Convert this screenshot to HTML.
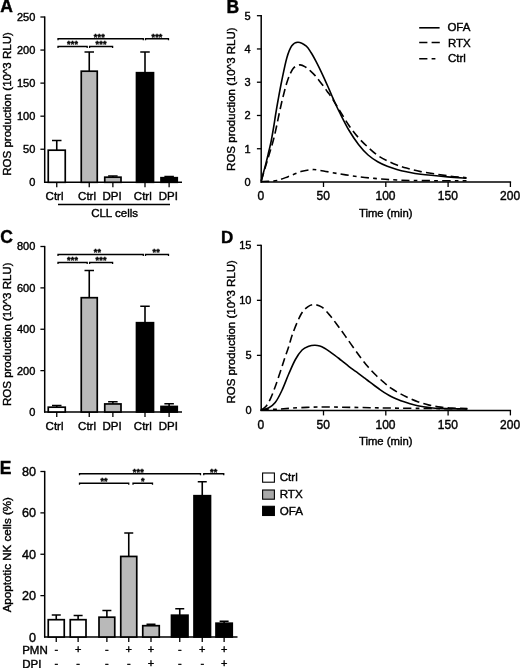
<!DOCTYPE html>
<html><head><meta charset="utf-8"><title>Figure</title>
<style>html,body{margin:0;padding:0;background:#fff}svg{display:block}text{font-family:"Liberation Sans", sans-serif;fill:#000;stroke:#000;stroke-width:0.4px}</style>
</head><body>
<svg width="520" height="668" viewBox="0 0 520 668">
<rect width="520" height="668" fill="#fff"/>
<text x="0.20" y="11.50" font-size="17.5" text-anchor="start" font-weight="bold" >A</text>
<line x1="44.70" y1="16.40" x2="44.70" y2="182.90" stroke="#000" stroke-width="1.5" />
<text x="35.30" y="186.20" font-size="11" text-anchor="end" font-weight="normal" >0</text>
<line x1="40.40" y1="149.24" x2="44.70" y2="149.24" stroke="#000" stroke-width="1.3" />
<text x="35.30" y="153.14" font-size="11" text-anchor="end" font-weight="normal" >50</text>
<line x1="40.40" y1="116.18" x2="44.70" y2="116.18" stroke="#000" stroke-width="1.3" />
<text x="35.30" y="120.08" font-size="11" text-anchor="end" font-weight="normal" >100</text>
<line x1="40.40" y1="83.12" x2="44.70" y2="83.12" stroke="#000" stroke-width="1.3" />
<text x="35.30" y="87.02" font-size="11" text-anchor="end" font-weight="normal" >150</text>
<line x1="40.40" y1="50.06" x2="44.70" y2="50.06" stroke="#000" stroke-width="1.3" />
<text x="35.30" y="53.96" font-size="11" text-anchor="end" font-weight="normal" >200</text>
<line x1="40.40" y1="17.00" x2="44.70" y2="17.00" stroke="#000" stroke-width="1.3" />
<text x="35.30" y="20.90" font-size="11" text-anchor="end" font-weight="normal" >250</text>
<line x1="44.00" y1="182.30" x2="182.00" y2="182.30" stroke="#000" stroke-width="1.5" />
<line x1="56.75" y1="140.50" x2="56.75" y2="150.00" stroke="#000" stroke-width="1.6" />
<line x1="52.00" y1="140.50" x2="61.50" y2="140.50" stroke="#000" stroke-width="1.5" />
<rect x="48.25" y="150.20" width="17.00" height="32.10" fill="#fff" stroke="#000" stroke-width="1.7"/>
<line x1="56.75" y1="182.30" x2="56.75" y2="187.30" stroke="#000" stroke-width="1.3" />
<text x="54.55" y="200.10" font-size="11.5" text-anchor="middle" font-weight="normal" >Ctrl</text>
<line x1="89.25" y1="52.00" x2="89.25" y2="71.00" stroke="#000" stroke-width="1.6" />
<line x1="84.50" y1="52.00" x2="94.00" y2="52.00" stroke="#000" stroke-width="1.5" />
<rect x="81.25" y="71.20" width="16.00" height="111.10" fill="#b9b9b9" stroke="#000" stroke-width="1.7"/>
<line x1="89.25" y1="182.30" x2="89.25" y2="187.30" stroke="#000" stroke-width="1.3" />
<text x="87.05" y="200.10" font-size="11.5" text-anchor="middle" font-weight="normal" >Ctrl</text>
<line x1="112.88" y1="176.00" x2="112.88" y2="177.00" stroke="#000" stroke-width="1.6" />
<line x1="108.12" y1="176.00" x2="117.62" y2="176.00" stroke="#000" stroke-width="1.5" />
<rect x="104.75" y="177.20" width="16.25" height="5.10" fill="#b9b9b9" stroke="#000" stroke-width="1.7"/>
<line x1="112.88" y1="182.30" x2="112.88" y2="187.30" stroke="#000" stroke-width="1.3" />
<text x="112.08" y="200.10" font-size="11.5" text-anchor="middle" font-weight="normal" >DPI</text>
<line x1="145.00" y1="52.00" x2="145.00" y2="72.50" stroke="#000" stroke-width="1.6" />
<line x1="140.25" y1="52.00" x2="149.75" y2="52.00" stroke="#000" stroke-width="1.5" />
<rect x="136.50" y="72.70" width="17.00" height="109.60" fill="#000" stroke="#000" stroke-width="1.7"/>
<line x1="145.00" y1="182.30" x2="145.00" y2="187.30" stroke="#000" stroke-width="1.3" />
<text x="142.80" y="200.10" font-size="11.5" text-anchor="middle" font-weight="normal" >Ctrl</text>
<line x1="169.12" y1="176.50" x2="169.12" y2="177.50" stroke="#000" stroke-width="1.6" />
<line x1="164.38" y1="176.50" x2="173.88" y2="176.50" stroke="#000" stroke-width="1.5" />
<rect x="161.00" y="177.70" width="16.25" height="4.60" fill="#000" stroke="#000" stroke-width="1.7"/>
<line x1="169.12" y1="182.30" x2="169.12" y2="187.30" stroke="#000" stroke-width="1.3" />
<text x="168.32" y="200.10" font-size="11.5" text-anchor="middle" font-weight="normal" >DPI</text>
<path d="M58.00,40.25 V38.75 H143.30 V40.25" fill="none" stroke="#000" stroke-width="1.3"/>
<text x="99.35" y="39.55" font-size="9" text-anchor="middle" font-weight="bold" letter-spacing="0.2" stroke-width="0.2">***</text>
<path d="M145.50,40.25 V38.75 H168.50 V40.25" fill="none" stroke="#000" stroke-width="1.3"/>
<text x="157.00" y="39.55" font-size="9" text-anchor="middle" font-weight="bold" letter-spacing="0.2" stroke-width="0.2">***</text>
<path d="M58.00,48.00 V46.50 H87.20 V48.00" fill="none" stroke="#000" stroke-width="1.3"/>
<text x="72.60" y="47.30" font-size="9" text-anchor="middle" font-weight="bold" letter-spacing="0.2" stroke-width="0.2">***</text>
<path d="M89.60,48.00 V46.50 H112.60 V48.00" fill="none" stroke="#000" stroke-width="1.3"/>
<text x="101.10" y="47.30" font-size="9" text-anchor="middle" font-weight="bold" letter-spacing="0.2" stroke-width="0.2">***</text>
<text transform="translate(11.20,103.95) rotate(-90)" font-size="11.5" text-anchor="middle">ROS production (10^3 RLU)</text>
<line x1="58.00" y1="204.50" x2="170.00" y2="204.50" stroke="#000" stroke-width="1.3" />
<text x="114.60" y="216.50" font-size="11.5" text-anchor="middle" font-weight="normal" >CLL cells</text>
<text x="0.20" y="242.70" font-size="17.5" text-anchor="start" font-weight="bold" >C</text>
<line x1="44.70" y1="245.90" x2="44.70" y2="412.60" stroke="#000" stroke-width="1.5" />
<text x="35.30" y="415.90" font-size="11" text-anchor="end" font-weight="normal" >0</text>
<line x1="40.40" y1="370.62" x2="44.70" y2="370.62" stroke="#000" stroke-width="1.3" />
<text x="35.30" y="374.52" font-size="11" text-anchor="end" font-weight="normal" >200</text>
<line x1="40.40" y1="329.25" x2="44.70" y2="329.25" stroke="#000" stroke-width="1.3" />
<text x="35.30" y="333.15" font-size="11" text-anchor="end" font-weight="normal" >400</text>
<line x1="40.40" y1="287.88" x2="44.70" y2="287.88" stroke="#000" stroke-width="1.3" />
<text x="35.30" y="291.77" font-size="11" text-anchor="end" font-weight="normal" >600</text>
<line x1="40.40" y1="246.50" x2="44.70" y2="246.50" stroke="#000" stroke-width="1.3" />
<text x="35.30" y="250.40" font-size="11" text-anchor="end" font-weight="normal" >800</text>
<line x1="44.00" y1="412.00" x2="182.00" y2="412.00" stroke="#000" stroke-width="1.5" />
<line x1="56.75" y1="405.50" x2="56.75" y2="407.00" stroke="#000" stroke-width="1.6" />
<line x1="52.00" y1="405.50" x2="61.50" y2="405.50" stroke="#000" stroke-width="1.5" />
<rect x="48.25" y="407.20" width="17.00" height="4.80" fill="#fff" stroke="#000" stroke-width="1.7"/>
<line x1="56.75" y1="412.00" x2="56.75" y2="417.00" stroke="#000" stroke-width="1.3" />
<text x="54.55" y="429.80" font-size="11.5" text-anchor="middle" font-weight="normal" >Ctrl</text>
<line x1="89.25" y1="270.50" x2="89.25" y2="297.50" stroke="#000" stroke-width="1.6" />
<line x1="84.50" y1="270.50" x2="94.00" y2="270.50" stroke="#000" stroke-width="1.5" />
<rect x="81.25" y="297.70" width="16.00" height="114.30" fill="#b9b9b9" stroke="#000" stroke-width="1.7"/>
<line x1="89.25" y1="412.00" x2="89.25" y2="417.00" stroke="#000" stroke-width="1.3" />
<text x="87.05" y="429.80" font-size="11.5" text-anchor="middle" font-weight="normal" >Ctrl</text>
<line x1="112.88" y1="401.75" x2="112.88" y2="403.75" stroke="#000" stroke-width="1.6" />
<line x1="108.12" y1="401.75" x2="117.62" y2="401.75" stroke="#000" stroke-width="1.5" />
<rect x="104.75" y="403.95" width="16.25" height="8.05" fill="#b9b9b9" stroke="#000" stroke-width="1.7"/>
<line x1="112.88" y1="412.00" x2="112.88" y2="417.00" stroke="#000" stroke-width="1.3" />
<text x="112.08" y="429.80" font-size="11.5" text-anchor="middle" font-weight="normal" >DPI</text>
<line x1="145.00" y1="306.25" x2="145.00" y2="322.50" stroke="#000" stroke-width="1.6" />
<line x1="140.25" y1="306.25" x2="149.75" y2="306.25" stroke="#000" stroke-width="1.5" />
<rect x="136.50" y="322.70" width="17.00" height="89.30" fill="#000" stroke="#000" stroke-width="1.7"/>
<line x1="145.00" y1="412.00" x2="145.00" y2="417.00" stroke="#000" stroke-width="1.3" />
<text x="142.80" y="429.80" font-size="11.5" text-anchor="middle" font-weight="normal" >Ctrl</text>
<line x1="169.12" y1="403.75" x2="169.12" y2="406.25" stroke="#000" stroke-width="1.6" />
<line x1="164.38" y1="403.75" x2="173.88" y2="403.75" stroke="#000" stroke-width="1.5" />
<rect x="161.00" y="406.45" width="16.25" height="5.55" fill="#000" stroke="#000" stroke-width="1.7"/>
<line x1="169.12" y1="412.00" x2="169.12" y2="417.00" stroke="#000" stroke-width="1.3" />
<text x="168.32" y="429.80" font-size="11.5" text-anchor="middle" font-weight="normal" >DPI</text>
<path d="M58.00,256.00 V254.50 H143.30 V256.00" fill="none" stroke="#000" stroke-width="1.3"/>
<text x="97.45" y="255.30" font-size="9" text-anchor="middle" font-weight="bold" letter-spacing="0.2" stroke-width="0.2">**</text>
<path d="M145.50,256.00 V254.50 H168.50 V256.00" fill="none" stroke="#000" stroke-width="1.3"/>
<text x="156.30" y="255.30" font-size="9" text-anchor="middle" font-weight="bold" letter-spacing="0.2" stroke-width="0.2">**</text>
<path d="M58.00,264.00 V262.50 H87.20 V264.00" fill="none" stroke="#000" stroke-width="1.3"/>
<text x="72.60" y="263.30" font-size="9" text-anchor="middle" font-weight="bold" letter-spacing="0.2" stroke-width="0.2">***</text>
<path d="M89.60,264.00 V262.50 H112.60 V264.00" fill="none" stroke="#000" stroke-width="1.3"/>
<text x="101.10" y="263.30" font-size="9" text-anchor="middle" font-weight="bold" letter-spacing="0.2" stroke-width="0.2">***</text>
<text transform="translate(11.20,334.25) rotate(-90)" font-size="11.5" text-anchor="middle">ROS production (10^3 RLU)</text>
<text x="226.60" y="13.00" font-size="17.5" text-anchor="start" font-weight="bold" >B</text>
<line x1="261.20" y1="15.10" x2="261.20" y2="182.70" stroke="#000" stroke-width="1.5" />
<text x="250.70" y="185.90" font-size="11" text-anchor="end" font-weight="normal" >0</text>
<line x1="256.90" y1="148.74" x2="261.20" y2="148.74" stroke="#000" stroke-width="1.3" />
<text x="250.70" y="152.64" font-size="11" text-anchor="end" font-weight="normal" >1</text>
<line x1="256.90" y1="115.48" x2="261.20" y2="115.48" stroke="#000" stroke-width="1.3" />
<text x="250.70" y="119.38" font-size="11" text-anchor="end" font-weight="normal" >2</text>
<line x1="256.90" y1="82.22" x2="261.20" y2="82.22" stroke="#000" stroke-width="1.3" />
<text x="250.70" y="86.12" font-size="11" text-anchor="end" font-weight="normal" >3</text>
<line x1="256.90" y1="48.96" x2="261.20" y2="48.96" stroke="#000" stroke-width="1.3" />
<text x="250.70" y="52.86" font-size="11" text-anchor="end" font-weight="normal" >4</text>
<line x1="256.90" y1="15.70" x2="261.20" y2="15.70" stroke="#000" stroke-width="1.3" />
<text x="250.70" y="19.60" font-size="11" text-anchor="end" font-weight="normal" >5</text>
<line x1="260.50" y1="182.00" x2="511.10" y2="182.00" stroke="#000" stroke-width="1.5" />
<text x="260.90" y="200.30" font-size="12" text-anchor="middle" font-weight="normal" >0</text>
<line x1="323.50" y1="182.00" x2="323.50" y2="187.00" stroke="#000" stroke-width="1.3" />
<text x="323.20" y="200.30" font-size="12" text-anchor="middle" font-weight="normal" >50</text>
<line x1="385.80" y1="182.00" x2="385.80" y2="187.00" stroke="#000" stroke-width="1.3" />
<text x="385.50" y="200.30" font-size="12" text-anchor="middle" font-weight="normal" >100</text>
<line x1="448.10" y1="182.00" x2="448.10" y2="187.00" stroke="#000" stroke-width="1.3" />
<text x="447.80" y="200.30" font-size="12" text-anchor="middle" font-weight="normal" >150</text>
<line x1="510.40" y1="182.00" x2="510.40" y2="187.00" stroke="#000" stroke-width="1.3" />
<text x="510.10" y="200.30" font-size="12" text-anchor="middle" font-weight="normal" >200</text>
<text x="385.70" y="217.00" font-size="11.3" text-anchor="middle" font-weight="normal" >Time (min)</text>
<text transform="translate(235.00,99.15) rotate(-90)" font-size="11.5" text-anchor="middle">ROS production (10^3 RLU)</text>
<path d="M261.25,181.00 C261.66,179.45 262.94,174.53 263.70,171.70 C264.46,168.87 265.07,166.88 265.80,164.00 C266.53,161.12 267.40,157.32 268.10,154.40 C268.80,151.48 269.45,148.90 270.00,146.50 C270.55,144.10 270.73,143.58 271.40,140.00 C272.07,136.42 273.28,129.33 274.00,125.00 C274.72,120.67 275.02,118.17 275.70,114.00 C276.38,109.83 277.10,105.50 278.10,100.00 C279.10,94.50 280.25,88.00 281.70,81.00 C283.15,74.00 285.12,63.87 286.80,58.00 C288.48,52.13 289.93,48.42 291.80,45.80 C293.67,43.18 295.58,42.23 298.00,42.30 C300.42,42.37 304.13,44.50 306.30,46.20 C308.47,47.90 309.38,49.98 311.00,52.50 C312.62,55.02 314.50,58.50 316.00,61.30 C317.50,64.10 318.67,66.55 320.00,69.30 C321.33,72.05 322.67,74.88 324.00,77.80 C325.33,80.72 326.67,83.77 328.00,86.80 C329.33,89.83 330.67,92.97 332.00,96.00 C333.33,99.03 334.80,102.40 336.00,105.00 C337.20,107.60 337.07,107.43 339.20,111.60 C341.33,115.77 345.58,124.53 348.80,130.00 C352.02,135.47 355.28,140.23 358.50,144.40 C361.72,148.57 364.90,152.12 368.10,155.00 C371.30,157.88 374.50,159.83 377.70,161.70 C380.90,163.57 384.10,164.92 387.30,166.20 C390.50,167.48 393.70,168.48 396.90,169.40 C400.10,170.32 402.52,170.88 406.50,171.70 C410.48,172.52 413.93,173.43 420.80,174.30 C427.67,175.17 440.08,176.25 447.70,176.90 C455.32,177.55 463.37,177.98 466.50,178.20" fill="none" stroke="#000" stroke-width="1.6" />
<path d="M261.25,181.00 C261.79,179.17 263.46,173.50 264.50,170.00 C265.54,166.50 266.50,163.33 267.50,160.00 C268.50,156.67 269.52,153.33 270.50,150.00 C271.48,146.67 272.45,143.67 273.40,140.00 C274.35,136.33 275.25,132.33 276.20,128.00 C277.15,123.67 278.10,118.67 279.10,114.00 C280.10,109.33 281.47,103.17 282.20,100.00 C282.93,96.83 282.78,97.70 283.50,95.00 C284.22,92.30 285.43,87.23 286.50,83.80 C287.57,80.37 288.67,77.08 289.90,74.40 C291.13,71.72 292.22,69.28 293.90,67.70 C295.58,66.12 298.02,64.98 300.00,64.90 C301.98,64.82 304.03,66.17 305.80,67.20 C307.57,68.23 309.00,69.65 310.60,71.10 C312.20,72.55 313.97,74.30 315.40,75.90 C316.83,77.50 317.83,78.95 319.20,80.70 C320.57,82.45 322.23,84.57 323.60,86.40 C324.97,88.23 326.20,90.05 327.40,91.70 C328.60,93.35 328.83,93.28 330.80,96.30 C332.77,99.32 336.20,104.98 339.20,109.80 C342.20,114.62 345.58,120.55 348.80,125.20 C352.02,129.85 355.28,134.02 358.50,137.70 C361.72,141.38 364.90,144.35 368.10,147.30 C371.30,150.25 374.50,153.15 377.70,155.40 C380.90,157.65 384.10,159.20 387.30,160.80 C390.50,162.40 393.70,163.78 396.90,165.00 C400.10,166.22 402.52,167.00 406.50,168.10 C410.48,169.20 413.93,170.32 420.80,171.60 C427.67,172.88 440.08,174.78 447.70,175.80 C455.32,176.82 463.37,177.38 466.50,177.70" fill="none" stroke="#000" stroke-width="1.6" stroke-dasharray="8.2 4.2"/>
<path d="M261.20,181.50 C262.33,181.48 265.37,181.57 268.00,181.40 C270.63,181.23 273.67,181.28 277.00,180.50 C280.33,179.72 284.03,178.18 288.00,176.70 C291.97,175.22 296.75,172.78 300.80,171.60 C304.85,170.42 309.10,169.80 312.30,169.60 C315.50,169.40 315.52,169.70 320.00,170.40 C324.48,171.10 332.78,172.75 339.20,173.80 C345.62,174.85 352.08,175.88 358.50,176.70 C364.92,177.52 371.30,178.15 377.70,178.70 C384.10,179.25 389.72,179.68 396.90,180.00 C404.08,180.32 409.20,180.47 420.80,180.60 C432.40,180.73 458.88,180.77 466.50,180.80" fill="none" stroke="#000" stroke-width="1.6" stroke-dasharray="8.2 4.2 3.8 4.2"/>
<text x="221.00" y="242.60" font-size="17" text-anchor="start" font-weight="bold" >D</text>
<line x1="261.20" y1="244.70" x2="261.20" y2="411.10" stroke="#000" stroke-width="1.5" />
<text x="251.50" y="414.30" font-size="11" text-anchor="end" font-weight="normal" >0</text>
<line x1="256.90" y1="355.37" x2="261.20" y2="355.37" stroke="#000" stroke-width="1.3" />
<text x="251.50" y="359.27" font-size="11" text-anchor="end" font-weight="normal" >5</text>
<line x1="256.90" y1="300.33" x2="261.20" y2="300.33" stroke="#000" stroke-width="1.3" />
<text x="251.50" y="304.23" font-size="11" text-anchor="end" font-weight="normal" >10</text>
<line x1="256.90" y1="245.30" x2="261.20" y2="245.30" stroke="#000" stroke-width="1.3" />
<text x="251.50" y="249.20" font-size="11" text-anchor="end" font-weight="normal" >15</text>
<line x1="260.50" y1="410.40" x2="511.10" y2="410.40" stroke="#000" stroke-width="1.5" />
<text x="260.90" y="429.20" font-size="12" text-anchor="middle" font-weight="normal" >0</text>
<line x1="323.50" y1="410.40" x2="323.50" y2="415.40" stroke="#000" stroke-width="1.3" />
<text x="323.20" y="429.20" font-size="12" text-anchor="middle" font-weight="normal" >50</text>
<line x1="385.80" y1="410.40" x2="385.80" y2="415.40" stroke="#000" stroke-width="1.3" />
<text x="385.50" y="429.20" font-size="12" text-anchor="middle" font-weight="normal" >100</text>
<line x1="448.10" y1="410.40" x2="448.10" y2="415.40" stroke="#000" stroke-width="1.3" />
<text x="447.80" y="429.20" font-size="12" text-anchor="middle" font-weight="normal" >150</text>
<line x1="510.40" y1="410.40" x2="510.40" y2="415.40" stroke="#000" stroke-width="1.3" />
<text x="510.10" y="429.20" font-size="12" text-anchor="middle" font-weight="normal" >200</text>
<text x="385.70" y="445.40" font-size="11.3" text-anchor="middle" font-weight="normal" >Time (min)</text>
<text transform="translate(235.00,331.85) rotate(-90)" font-size="11.5" text-anchor="middle">ROS production (10^3 RLU)</text>
<path d="M261.20,410.00 C262.42,409.67 266.17,409.23 268.50,408.00 C270.83,406.77 272.97,405.52 275.20,402.60 C277.43,399.68 279.67,395.22 281.90,390.50 C284.13,385.78 286.35,379.47 288.60,374.30 C290.85,369.13 293.15,363.55 295.40,359.50 C297.65,355.45 299.87,352.20 302.10,350.00 C304.33,347.80 306.72,347.08 308.80,346.30 C310.88,345.52 312.77,345.35 314.60,345.30 C316.43,345.25 318.13,345.52 319.80,346.00 C321.47,346.48 323.00,347.32 324.60,348.20 C326.20,349.08 327.80,350.20 329.40,351.30 C331.00,352.40 332.60,353.60 334.20,354.80 C335.80,356.00 337.40,357.23 339.00,358.50 C340.60,359.77 342.18,361.10 343.80,362.40 C345.42,363.70 347.08,365.05 348.70,366.30 C350.32,367.55 351.90,368.73 353.50,369.90 C355.10,371.07 356.42,371.92 358.30,373.30 C360.18,374.68 362.92,376.77 364.80,378.20 C366.68,379.63 368.00,380.68 369.60,381.90 C371.20,383.12 372.80,384.32 374.40,385.50 C376.00,386.68 377.60,387.87 379.20,389.00 C380.80,390.13 382.40,391.27 384.00,392.30 C385.60,393.33 387.18,394.30 388.80,395.20 C390.42,396.10 392.08,396.93 393.70,397.70 C395.32,398.47 396.90,399.15 398.50,399.80 C400.10,400.45 401.38,400.93 403.30,401.60 C405.22,402.27 407.60,403.10 410.00,403.80 C412.40,404.50 414.50,405.17 417.70,405.80 C420.90,406.43 425.35,407.15 429.20,407.60 C433.05,408.05 434.45,408.27 440.80,408.50 C447.15,408.73 462.88,408.92 467.30,409.00" fill="none" stroke="#000" stroke-width="1.6" />
<path d="M261.20,410.00 C261.97,409.43 264.25,408.50 265.80,406.60 C267.35,404.70 268.93,401.90 270.50,398.60 C272.07,395.30 273.63,391.07 275.20,386.80 C276.77,382.53 278.33,377.70 279.90,373.00 C281.47,368.30 283.15,362.93 284.60,358.60 C286.05,354.27 287.18,351.35 288.60,347.00 C290.02,342.65 291.00,338.00 293.10,332.50 C295.20,327.00 298.70,318.32 301.20,314.00 C303.70,309.68 305.88,308.15 308.10,306.60 C310.32,305.05 312.20,304.60 314.50,304.70 C316.80,304.80 319.32,305.40 321.90,307.20 C324.48,309.00 327.32,312.37 330.00,315.50 C332.68,318.63 335.50,322.65 338.00,326.00 C340.50,329.35 342.50,332.10 345.00,335.60 C347.50,339.10 350.33,343.27 353.00,347.00 C355.67,350.73 358.50,354.70 361.00,358.00 C363.50,361.30 365.50,363.92 368.00,366.80 C370.50,369.68 373.33,372.68 376.00,375.30 C378.67,377.92 381.50,380.35 384.00,382.50 C386.50,384.65 388.50,386.45 391.00,388.20 C393.50,389.95 396.47,391.57 399.00,393.00 C401.53,394.43 403.08,395.35 406.20,396.80 C409.32,398.25 413.87,400.32 417.70,401.70 C421.53,403.08 425.35,404.20 429.20,405.10 C433.05,406.00 436.95,406.60 440.80,407.10 C444.65,407.60 447.88,407.85 452.30,408.10 C456.72,408.35 464.80,408.52 467.30,408.60" fill="none" stroke="#000" stroke-width="1.6" stroke-dasharray="8.2 4.2"/>
<path d="M260.60,410.00 C263.83,409.83 273.27,409.40 280.00,409.00 C286.73,408.60 293.67,407.93 301.00,407.60 C308.33,407.27 314.17,407.02 324.00,407.00 C333.83,406.98 347.33,407.30 360.00,407.50 C372.67,407.70 382.12,407.98 400.00,408.20 C417.88,408.42 456.08,408.70 467.30,408.80" fill="none" stroke="#000" stroke-width="1.6" stroke-dasharray="8.2 4.2 3.8 4.2"/>
<line x1="419.20" y1="27.80" x2="439.60" y2="27.80" stroke="#000" stroke-width="1.6" />
<line x1="419.20" y1="42.50" x2="439.80" y2="42.50" stroke="#000" stroke-width="1.6" stroke-dasharray="8.2 4.2"/>
<line x1="419.20" y1="58.80" x2="439.60" y2="58.80" stroke="#000" stroke-width="1.6" stroke-dasharray="8.2 4.2 3.8 10"/>
<text x="447.40" y="31.30" font-size="11.5" text-anchor="start" font-weight="normal" >OFA</text>
<text x="447.90" y="46.50" font-size="11.5" text-anchor="start" font-weight="normal" >RTX</text>
<text x="447.90" y="62.30" font-size="11.5" text-anchor="start" font-weight="normal" >Ctrl</text>
<text x="-0.20" y="474.00" font-size="17.5" text-anchor="start" font-weight="bold" >E</text>
<line x1="44.70" y1="470.90" x2="44.70" y2="637.60" stroke="#000" stroke-width="1.5" />
<text x="36.00" y="641.50" font-size="12.6" text-anchor="end" font-weight="normal" >0</text>
<line x1="40.40" y1="595.62" x2="44.70" y2="595.62" stroke="#000" stroke-width="1.3" />
<text x="36.00" y="600.12" font-size="12.6" text-anchor="end" font-weight="normal" >20</text>
<line x1="40.40" y1="554.25" x2="44.70" y2="554.25" stroke="#000" stroke-width="1.3" />
<text x="36.00" y="558.75" font-size="12.6" text-anchor="end" font-weight="normal" >40</text>
<line x1="40.40" y1="512.88" x2="44.70" y2="512.88" stroke="#000" stroke-width="1.3" />
<text x="36.00" y="517.38" font-size="12.6" text-anchor="end" font-weight="normal" >60</text>
<line x1="40.40" y1="471.50" x2="44.70" y2="471.50" stroke="#000" stroke-width="1.3" />
<text x="36.00" y="476.00" font-size="12.6" text-anchor="end" font-weight="normal" >80</text>
<line x1="44.00" y1="637.00" x2="237.50" y2="637.00" stroke="#000" stroke-width="1.5" />
<line x1="56.25" y1="615.00" x2="56.25" y2="619.50" stroke="#000" stroke-width="1.6" />
<line x1="51.75" y1="615.00" x2="60.75" y2="615.00" stroke="#000" stroke-width="1.5" />
<rect x="48.25" y="619.70" width="16.00" height="17.30" fill="#fff" stroke="#000" stroke-width="1.7"/>
<line x1="56.25" y1="637.00" x2="56.25" y2="642.00" stroke="#000" stroke-width="1.3" />
<text x="56.25" y="653.00" font-size="11" text-anchor="middle" font-weight="normal" >-</text>
<text x="56.25" y="666.70" font-size="11" text-anchor="middle" font-weight="normal" >-</text>
<line x1="78.12" y1="615.50" x2="78.12" y2="619.50" stroke="#000" stroke-width="1.6" />
<line x1="73.62" y1="615.50" x2="82.62" y2="615.50" stroke="#000" stroke-width="1.5" />
<rect x="70.25" y="619.70" width="15.75" height="17.30" fill="#fff" stroke="#000" stroke-width="1.7"/>
<line x1="78.12" y1="637.00" x2="78.12" y2="642.00" stroke="#000" stroke-width="1.3" />
<text x="78.12" y="653.00" font-size="11" text-anchor="middle" font-weight="normal" >+</text>
<text x="78.12" y="666.70" font-size="11" text-anchor="middle" font-weight="normal" >-</text>
<line x1="106.88" y1="610.50" x2="106.88" y2="617.00" stroke="#000" stroke-width="1.6" />
<line x1="102.38" y1="610.50" x2="111.38" y2="610.50" stroke="#000" stroke-width="1.5" />
<rect x="99.00" y="617.20" width="15.75" height="19.80" fill="#b9b9b9" stroke="#000" stroke-width="1.7"/>
<line x1="106.88" y1="637.00" x2="106.88" y2="642.00" stroke="#000" stroke-width="1.3" />
<text x="106.88" y="653.00" font-size="11" text-anchor="middle" font-weight="normal" >-</text>
<text x="106.88" y="666.70" font-size="11" text-anchor="middle" font-weight="normal" >-</text>
<line x1="128.75" y1="533.00" x2="128.75" y2="556.25" stroke="#000" stroke-width="1.6" />
<line x1="124.25" y1="533.00" x2="133.25" y2="533.00" stroke="#000" stroke-width="1.5" />
<rect x="120.75" y="556.45" width="16.00" height="80.55" fill="#b9b9b9" stroke="#000" stroke-width="1.7"/>
<line x1="128.75" y1="637.00" x2="128.75" y2="642.00" stroke="#000" stroke-width="1.3" />
<text x="128.75" y="653.00" font-size="11" text-anchor="middle" font-weight="normal" >+</text>
<text x="128.75" y="666.70" font-size="11" text-anchor="middle" font-weight="normal" >-</text>
<line x1="151.00" y1="624.25" x2="151.00" y2="625.50" stroke="#000" stroke-width="1.6" />
<line x1="146.50" y1="624.25" x2="155.50" y2="624.25" stroke="#000" stroke-width="1.5" />
<rect x="142.75" y="625.70" width="16.50" height="11.30" fill="#b9b9b9" stroke="#000" stroke-width="1.7"/>
<line x1="151.00" y1="637.00" x2="151.00" y2="642.00" stroke="#000" stroke-width="1.3" />
<text x="151.00" y="653.00" font-size="11" text-anchor="middle" font-weight="normal" >+</text>
<text x="151.00" y="666.70" font-size="11" text-anchor="middle" font-weight="normal" >+</text>
<line x1="179.75" y1="608.75" x2="179.75" y2="615.00" stroke="#000" stroke-width="1.6" />
<line x1="175.25" y1="608.75" x2="184.25" y2="608.75" stroke="#000" stroke-width="1.5" />
<rect x="171.50" y="615.20" width="16.50" height="21.80" fill="#000" stroke="#000" stroke-width="1.7"/>
<line x1="179.75" y1="637.00" x2="179.75" y2="642.00" stroke="#000" stroke-width="1.3" />
<text x="179.75" y="653.00" font-size="11" text-anchor="middle" font-weight="normal" >-</text>
<text x="179.75" y="666.70" font-size="11" text-anchor="middle" font-weight="normal" >-</text>
<line x1="202.25" y1="481.75" x2="202.25" y2="495.50" stroke="#000" stroke-width="1.6" />
<line x1="197.75" y1="481.75" x2="206.75" y2="481.75" stroke="#000" stroke-width="1.5" />
<rect x="194.00" y="495.70" width="16.50" height="141.30" fill="#000" stroke="#000" stroke-width="1.7"/>
<line x1="202.25" y1="637.00" x2="202.25" y2="642.00" stroke="#000" stroke-width="1.3" />
<text x="202.25" y="653.00" font-size="11" text-anchor="middle" font-weight="normal" >+</text>
<text x="202.25" y="666.70" font-size="11" text-anchor="middle" font-weight="normal" >-</text>
<line x1="224.12" y1="621.25" x2="224.12" y2="623.00" stroke="#000" stroke-width="1.6" />
<line x1="219.62" y1="621.25" x2="228.62" y2="621.25" stroke="#000" stroke-width="1.5" />
<rect x="216.00" y="623.20" width="16.25" height="13.80" fill="#000" stroke="#000" stroke-width="1.7"/>
<line x1="224.12" y1="637.00" x2="224.12" y2="642.00" stroke="#000" stroke-width="1.3" />
<text x="224.12" y="653.00" font-size="11" text-anchor="middle" font-weight="normal" >+</text>
<text x="224.12" y="666.70" font-size="11" text-anchor="middle" font-weight="normal" >+</text>
<text x="22.20" y="653.50" font-size="11.5" text-anchor="start" font-weight="normal" >PMN</text>
<text x="22.20" y="667.60" font-size="11.5" text-anchor="start" font-weight="normal" >DPI</text>
<path d="M79.50,475.25 V473.75 H200.50 V475.25" fill="none" stroke="#000" stroke-width="1.3"/>
<text x="138.30" y="474.55" font-size="9" text-anchor="middle" font-weight="bold" letter-spacing="0.2" stroke-width="0.2">***</text>
<path d="M203.75,475.25 V473.75 H223.75 V475.25" fill="none" stroke="#000" stroke-width="1.3"/>
<text x="213.75" y="474.55" font-size="9" text-anchor="middle" font-weight="bold" letter-spacing="0.2" stroke-width="0.2">**</text>
<path d="M79.50,484.75 V483.25 H128.75 V484.75" fill="none" stroke="#000" stroke-width="1.3"/>
<text x="104.12" y="484.05" font-size="9" text-anchor="middle" font-weight="bold" letter-spacing="0.2" stroke-width="0.2">**</text>
<path d="M133.00,484.75 V483.25 H152.50 V484.75" fill="none" stroke="#000" stroke-width="1.3"/>
<text x="142.75" y="484.05" font-size="9" text-anchor="middle" font-weight="bold" letter-spacing="0.2" stroke-width="0.2">*</text>
<text transform="translate(11.30,554.70) rotate(-90)" font-size="11.6" text-anchor="middle">Apoptotic NK cells (%)</text>
<rect x="262.6" y="473" width="11.8" height="9.2" fill="#fff" stroke="#000" stroke-width="1.1"/>
<text x="279.70" y="481.30" font-size="11.6" text-anchor="start" font-weight="normal" >Ctrl</text>
<rect x="262.6" y="490" width="11.8" height="9.2" fill="#a9a9a9" stroke="#000" stroke-width="1.1"/>
<text x="279.70" y="498.30" font-size="11.6" text-anchor="start" font-weight="normal" >RTX</text>
<rect x="262.6" y="506.3" width="11.8" height="9.2" fill="#000" stroke="#000" stroke-width="1.1"/>
<text x="279.70" y="514.60" font-size="11.6" text-anchor="start" font-weight="normal" >OFA</text>
</svg>
</body></html>
